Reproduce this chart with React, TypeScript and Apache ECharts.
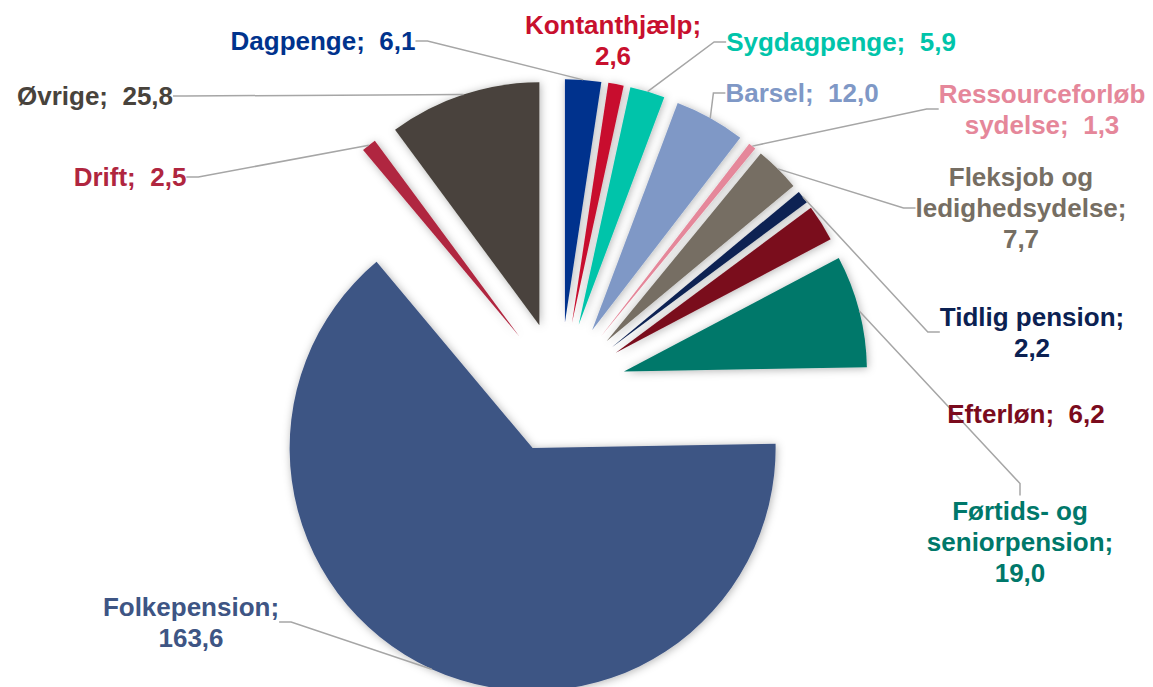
import React, { useEffect, useRef } from "react";
import * as echarts from "echarts";

// ---- Data ----
const categories: string[] = [
  "Dagpenge",
  "Kontanthjælp",
  "Sygdagpenge",
  "Barsel",
  "Ressourceforløb sydelse",
  "Fleksjob og ledighedsydelse",
  "Tidlig pension",
  "Efterløn",
  "Førtids- og seniorpension",
  "Folkepension",
  "Drift",
  "Øvrige",
];
const values: number[] = [6.1, 2.6, 5.9, 12.0, 1.3, 7.7, 2.2, 6.2, 19.0, 163.6, 2.5, 25.8];

// ---- Styles / layout ----
const colors: string[] = [
  "#00338D",
  "#C8102E",
  "#00C4AA",
  "#7F98C6",
  "#E5879A",
  "#766E63",
  "#0B2152",
  "#7A0B1D",
  "#00786A",
  "#3E5584",
  "#B0263F",
  "#48433C",
];
const labelNames: string[] = [
  "Dagpenge",
  "Kontanthjælp",
  "Sygdagpenge",
  "Barsel",
  "Ressourceforløb\nsydelse",
  "Fleksjob og\nledighedsydelse",
  "Tidlig pension",
  "Efterløn",
  "Førtids- og\nseniorpension",
  "Folkepension",
  "Drift",
  "Øvrige",
];
const labelSeps: string[] = ["  ", "\n", "  ", "  ", "  ", "\n", "\n", "  ", "\n", "\n", "  ", "  "];
const labelPos: number[][] = [
  [323, 41],
  [613, 40],
  [841, 42],
  [802, 93],
  [1042, 109],
  [1021, 208],
  [1032, 332],
  [1026, 414],
  [1020, 542],
  [191, 622],
  [130, 177],
  [95, 96],
];
const showLine: boolean[] = [true, false, true, true, true, true, true, false, true, true, true, true];

const fmt = (v: number) => v.toFixed(1).replace(".", ",");

const CENTER = [560, 388];
const RADIUS = 243;
const EXPLODE = 66;

export default function App() {
  const ref = useRef<HTMLDivElement>(null);
  useEffect(() => {
    if (!ref.current) return;
    const chart = echarts.init(ref.current, undefined, { renderer: "svg" });
    chart.setOption({
      animation: false,
      series: [
        {
          type: "pie",
          name: "slices",
          center: CENTER,
          radius: RADIUS,
          startAngle: 90,
          clockwise: true,
          selectedMode: "multiple",
          selectedOffset: EXPLODE,
          silent: true,
          label: { show: false },
          labelLine: { show: false },
          itemStyle: {
            shadowBlur: 8,
            shadowColor: "rgba(0,0,0,0.3)",
            shadowOffsetX: 1,
            shadowOffsetY: 1,
          },
          data: values.map((v, i) => ({
            name: categories[i],
            value: v,
            selected: true,
            itemStyle: { color: colors[i] },
          })),
        },
        {
          type: "pie",
          name: "labels",
          center: CENTER,
          radius: RADIUS + EXPLODE,
          startAngle: 90,
          clockwise: true,
          selectedMode: false,
          avoidLabelOverlap: false,
          silent: true,
          z: 3,
          itemStyle: { color: "rgba(0,0,0,0)" },
          label: {
            show: true,
            fontFamily: "'Liberation Sans', Arial, sans-serif",
            fontWeight: "bold",
            fontSize: 26,
            lineHeight: 31,
            align: "center",
          },
          labelLine: {
            show: true,
            length: 10,
            length2: 12,
            lineStyle: { color: "#A6A6A6", width: 1.5 },
          },
          labelLayout: (p: any) => ({
            x: labelPos[p.dataIndex][0],
            y: labelPos[p.dataIndex][1],
            align: "center",
            verticalAlign: "middle",
          }),
          data: values.map((v, i) => ({
            name: categories[i],
            value: v,
            label: { color: colors[i], formatter: labelNames[i] + ";" + labelSeps[i] + fmt(v) },
            labelLine: { show: showLine[i] },
          })),
        },
      ],
    });
    return () => chart.dispose();
  }, []);
  return (
    <div
      ref={ref}
      style={{ position: "absolute", left: 0, top: 0, width: 1153, height: 687, background: "#fff" }}
    />
  );
}
